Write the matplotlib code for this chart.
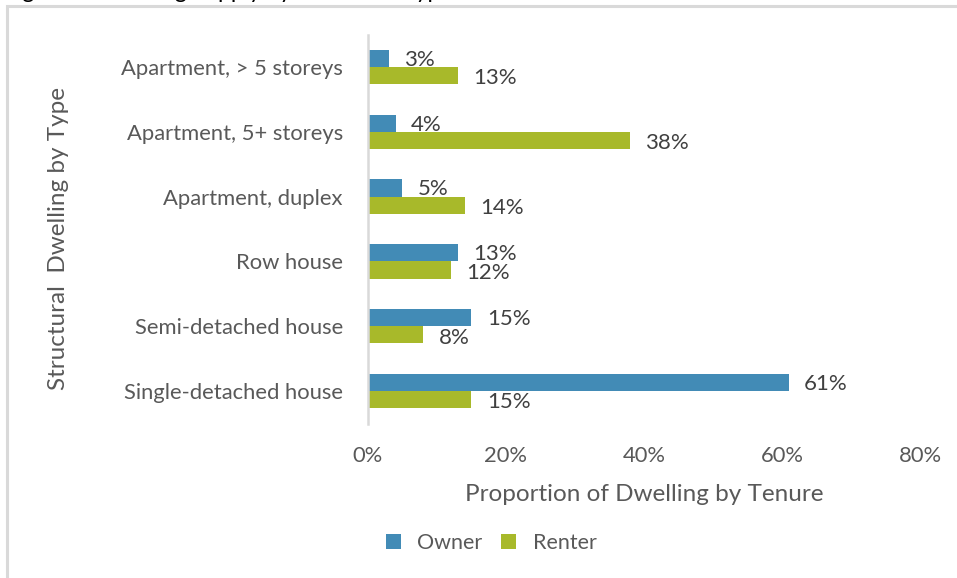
import matplotlib.pyplot as plt
from matplotlib.patches import Rectangle

plt.rcParams["font.family"] = ["Lato", "DejaVu Sans"]

# ---------------------------------------------------------------------------
# Data
# ---------------------------------------------------------------------------

dwelling_types = [
    "Single-detached house",
    "Semi-detached house",
    "Row house",
    "Apartment, duplex",
    "Apartment, 5+ storeys",
    "Apartment, > 5 storeys",
]
owner = [61, 15, 13, 5, 4, 3]
renter = [15, 8, 12, 14, 38, 13]
x_ticks = [0, 20, 40, 60, 80]

title_text = "Figure 4: Dwelling Supply by Structural Type and Tenure"

OWNER_C = "#428BB6"
RENTER_C = "#A8B92A"
TEXT_C = "#595959"
LABEL_C = "#404040"

# ---------------------------------------------------------------------------
# Figure
# ---------------------------------------------------------------------------

fig = plt.figure(figsize=(9.57, 5.78), dpi=100)
ax = fig.add_axes([0.3845, 0.2673, 0.9613 - 0.3845, 0.9403 - 0.2673])

# outer chart frame (runs off the right and bottom edges)
fig.patches.append(Rectangle((6.5 / 957, -0.1), 1.2, 1 - 6 / 578 + 0.1,
                             transform=fig.transFigure, fill=False,
                             edgecolor="#d9d9d9", linewidth=2.2, zorder=0))
# caption above the frame, cut off by the top edge as in the source
fig.text(4 / 957, 1 + 1.5 / 578, title_text, fontsize=16.5, color="black", va="baseline")

pos = list(range(len(dwelling_types)))
h = 0.265
b_own = ax.barh([p + h / 2 for p in pos], owner, height=h, color=OWNER_C, label="Owner")
b_ren = ax.barh([p - h / 2 for p in pos], renter, height=h, color=RENTER_C, label="Renter")

for bars, vals, dy in ((b_own, owner, -1), (b_ren, renter, -2)):
    for bar, v in zip(bars, vals):
        ax.annotate(f"{v}%", (bar.get_width(), bar.get_y() + bar.get_height() / 2),
                    xytext=(11, dy), textcoords="offset points",
                    ha="left", va="center", fontsize=16, color=LABEL_C)

ax.set_xlim(0, 80)
ax.set_ylim(-0.5, len(dwelling_types) - 0.5)
ax.set_xticks(x_ticks)
ax.set_xticklabels([f"{t}%" for t in x_ticks])
ax.set_yticks(pos)
ax.set_yticklabels(dwelling_types)
ax.tick_params(axis="both", length=0, labelsize=15.8, colors=TEXT_C)
ax.tick_params(axis="x", pad=16)
ax.tick_params(axis="y", pad=18)

for s in ("top", "right", "bottom"):
    ax.spines[s].set_visible(False)
ax.spines["left"].set_color("#d9d9d9")
ax.spines["left"].set_linewidth(1.8)

ax.set_xlabel("Proportion of Dwelling by Tenure", fontsize=17.5, color=TEXT_C, labelpad=13)
fig.text(59 / 957, 1 - 238 / 578, "Structural  Dwelling by Type", rotation=90,
         fontsize=17.5, color=TEXT_C, ha="center", va="center")

fig.legend(handles=[b_own, b_ren], loc="center", bbox_to_anchor=(491 / 957, 1 - 543 / 578),
           ncols=2, frameon=False, fontsize=15.5, labelcolor=TEXT_C,
           handlelength=0.7, handleheight=0.7, handletextpad=0.75, columnspacing=0.9)

fig.savefig("out.png", dpi=100)
plt.close(fig)
